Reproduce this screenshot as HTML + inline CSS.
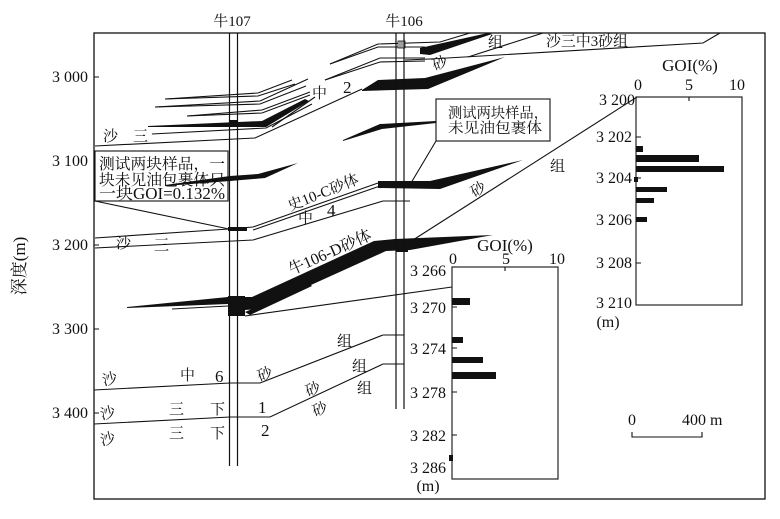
<!DOCTYPE html>
<html><head><meta charset="utf-8"><style>
html,body{margin:0;padding:0;background:#fff;}
svg{display:block;}
text{font-family:"Liberation Serif","Noto Serif CJK SC",serif;fill:#111;}
</style></head><body>
<svg width="780" height="519" viewBox="0 0 780 519" xmlns="http://www.w3.org/2000/svg">
<g fill="none" stroke="#111" stroke-width="1.1">
<!-- main frame -->
<rect x="94" y="33" width="671" height="466" stroke-width="1.3"/>
<!-- depth ticks -->
<path d="M94 77h5M94 161h5M94 245h5M94 329h5M94 413h5"/>

<!-- top-left stack -->
<polyline points="165,99 258,93 292,80"/>
<polyline points="165,99 258,96 295,84"/>
<polyline points="155,107 260,101 308,79"/>
<polyline points="155,107 260,104 306,86"/>
<polyline points="187,116 262,110 310,92"/>
<polyline points="187,116 262,113 310,95"/>
<polyline points="152,134 266,128 312,104"/>
<polyline points="95,146 255,138 362,89"/>
<polyline points="272,127 315,97"/>

<!-- top right of 牛106 stack -->
<polyline points="330,64 378,44 440,42 470,33"/>
<polyline points="330,64 378,47 425,47"/>
<polyline points="325,80 380,58 425,58"/>
<polyline points="325,80 380,62 425,61"/>
<polyline points="405,60 430,59 703,43 720,33"/>
<polyline points="468,57 543,33"/>

<!-- middle lines -->
<polyline points="95,238 229,229 253,227 378,183"/>
<polyline points="253,230 380,186"/>
<polyline points="95,248 253,240 383,201 410,201"/>
<polyline points="95,201 229,229"/>
<polyline points="436,141 411,183"/>
<polyline points="413,240 637,97"/>

<!-- lower part of D band -->
<polyline points="172,309 228,306"/>
<polyline points="245,316 452,287"/>

<!-- lower boundaries -->
<polyline points="94,390 230,383 260,383 383,335 404,335"/>
<polyline points="94,424 230,417 270,417 383,364 404,364"/>

<!-- text boxes -->
<rect x="95" y="151" width="133" height="50" fill="#fff"/>
<rect x="436" y="99" width="114" height="42" fill="#fff"/>

<!-- upper inset -->
<rect x="636" y="97" width="106" height="208"/>
<path d="M636 137h5M636 178h5M636 220h5M636 263h5M689 97v4"/>
<!-- lower inset -->
<rect x="452" y="267" width="106" height="212"/>
<path d="M452 307h5M452 348h5M452 392h5M452 435h5M505 267v4"/>

<!-- scale bar -->
<polyline points="632,432 632,437 702,437 702,432"/>
</g>

<!-- black fills -->
<g fill="#111" stroke="none">
<polygon points="148,126 262,121 305,99 309,101 266,127 148,127"/>
<rect x="230" y="120" width="8" height="6"/>
<polygon points="420,48 488,33 492,34 430,55 420,54"/>
<polygon points="362,90 378,80 425,78 505,57 428,89 362,91"/>
<polygon points="343,140 380,124 436,121 436,123 382,129 343,141"/>
<polygon points="165,185 230,176 258,174 298,163 265,178 230,181 165,186"/>
<polygon points="378,181 430,181 523,160 440,189 378,188"/>
<rect x="228" y="227" width="19" height="4"/>
<!-- 牛106-D band -->
<polygon points="127,307 228,297 252,297 374,241 395,239 493,235 410,250 386,251 258,309 245,310 228,304 127,308"/>
<rect x="228" y="296" width="17" height="20"/>
<rect x="396" y="239" width="12" height="13"/>
<polygon points="245,312 310,284 312,286 250,315"/>
<!-- upper inset bars -->
<rect x="636" y="146" width="7" height="6"/>
<rect x="636" y="155" width="63" height="7"/>
<rect x="636" y="166" width="88" height="6"/>
<rect x="634" y="177" width="4" height="5"/>
<rect x="636" y="187" width="31" height="5"/>
<rect x="636" y="198" width="18" height="5"/>
<rect x="636" y="217" width="11" height="5"/>
<!-- lower inset bars -->
<rect x="452" y="298" width="18" height="7"/>
<rect x="452" y="337" width="11" height="6"/>
<rect x="452" y="357" width="31" height="6"/>
<rect x="452" y="372" width="44" height="7"/>
<rect x="449" y="455" width="4" height="6"/>
</g>

<!-- hatched box at 牛106 top -->
<g stroke="#111" stroke-width="0.8" fill="#fff">
<rect x="398" y="41" width="7" height="7"/>
<path d="M400 41v7M402 41v7M404 41v7" fill="none"/>
</g>

<!-- wells -->
<g stroke="#111" stroke-width="1.2" fill="none">
<path d="M229.5 33V466M237.5 33V466"/>
<path d="M396 33V409M404 33V409"/>
</g>

<!-- text -->
<g font-size="15">
<text x="232" y="26" text-anchor="middle">牛107</text>
<text x="404" y="26" text-anchor="middle">牛106</text>
</g>
<g font-size="16" text-anchor="end">
<text x="88" y="82">3 000</text>
<text x="88" y="166">3 100</text>
<text x="88" y="250">3 200</text>
<text x="88" y="334">3 300</text>
<text x="88" y="418">3 400</text>
</g>
<text transform="translate(25,266) rotate(-90)" font-size="17" text-anchor="middle">深度(m)</text>

<g font-size="15.5">
<text x="99" y="169" textLength="126" lengthAdjust="spacingAndGlyphs">测试两块样品，一</text>
<text x="99" y="185" textLength="126" lengthAdjust="spacingAndGlyphs">块未见油包裹体只</text>
<text x="99" y="199" font-size="16.5" textLength="126" lengthAdjust="spacingAndGlyphs">一块GOI=0.132%</text>
</g>
<g font-size="14.5">
<text x="448" y="118" textLength="100" lengthAdjust="spacingAndGlyphs">测试两块样品，</text>
<text x="448" y="133" textLength="94" lengthAdjust="spacingAndGlyphs">未见油包裹体</text>
</g>
<text x="546" y="46" font-size="15" textLength="82" lengthAdjust="spacingAndGlyphs">沙三中3砂组</text>

<g font-size="15">
<text x="103" y="141">沙</text>
<text x="133" y="141">三</text>
<text x="312" y="98">中</text>
<text x="343" y="93" font-size="17">2</text>
<text x="432" y="68" transform="rotate(-20,440,62)">砂</text>
<text x="488" y="47">组</text>
<text x="116" y="248">沙</text>
<text x="154" y="250">三</text>
<text x="298" y="223">中</text>
<text x="327" y="216" font-size="17">4</text>
<text x="470" y="194" transform="rotate(-30,478,188)">砂</text>
<text x="550" y="171">组</text>
</g>
<text x="325" y="197" font-size="15" text-anchor="middle" transform="rotate(-22,325,197)">史10-C砂体</text>
<text x="332" y="257" font-size="16" text-anchor="middle" transform="rotate(-24,332,257)">牛106-D砂体</text>

<g font-size="15">
<text x="102" y="384" transform="rotate(-15,110,378)">沙</text>
<text x="180" y="380">中</text>
<text x="215" y="382" font-size="17">6</text>
<text x="257" y="379" transform="rotate(-20,265,373)">砂</text>
<text x="337" y="346">组</text>
<text x="100" y="418" transform="rotate(-15,108,412)">沙</text>
<text x="169" y="414">三</text>
<text x="210" y="414">下</text>
<text x="258" y="413" font-size="17">1</text>
<text x="305" y="394" transform="rotate(-20,313,388)">砂</text>
<text x="352" y="371">组</text>
<text x="357" y="393">组</text>
<text x="100" y="444" transform="rotate(-15,108,438)">沙</text>
<text x="169" y="438">三</text>
<text x="210" y="438">下</text>
<text x="261" y="436" font-size="17">2</text>
<text x="312" y="414" transform="rotate(-20,320,408)">砂</text>
</g>

<!-- upper inset labels -->
<text x="690" y="71" font-size="17" text-anchor="middle">GOI(%)</text>
<g font-size="16" text-anchor="middle">
<text x="638" y="90">0</text>
<text x="689" y="90">5</text>
<text x="737" y="90">10</text>
</g>
<g font-size="16" text-anchor="end">
<text x="635" y="105">3 200</text>
<text x="632" y="142">3 202</text>
<text x="632" y="183">3 204</text>
<text x="632" y="225">3 206</text>
<text x="632" y="268">3 208</text>
<text x="632" y="308">3 210</text>
</g>
<text x="608" y="327" font-size="16" text-anchor="middle">(m)</text>

<!-- lower inset labels -->
<text x="505" y="251" font-size="17" text-anchor="middle">GOI(%)</text>
<g font-size="16" text-anchor="middle">
<text x="453" y="264">0</text>
<text x="506" y="264">5</text>
<text x="557" y="264">10</text>
</g>
<g font-size="16" text-anchor="end">
<text x="446" y="276">3 266</text>
<text x="446" y="313">3 270</text>
<text x="446" y="354">3 274</text>
<text x="446" y="398">3 278</text>
<text x="446" y="441">3 282</text>
<text x="446" y="473">3 286</text>
</g>
<text x="428" y="491" font-size="16" text-anchor="middle">(m)</text>

<!-- scale bar labels -->
<text x="632" y="425" font-size="16" text-anchor="middle">0</text>
<text x="682" y="425" font-size="16">400 m</text>
</svg>
</body></html>
